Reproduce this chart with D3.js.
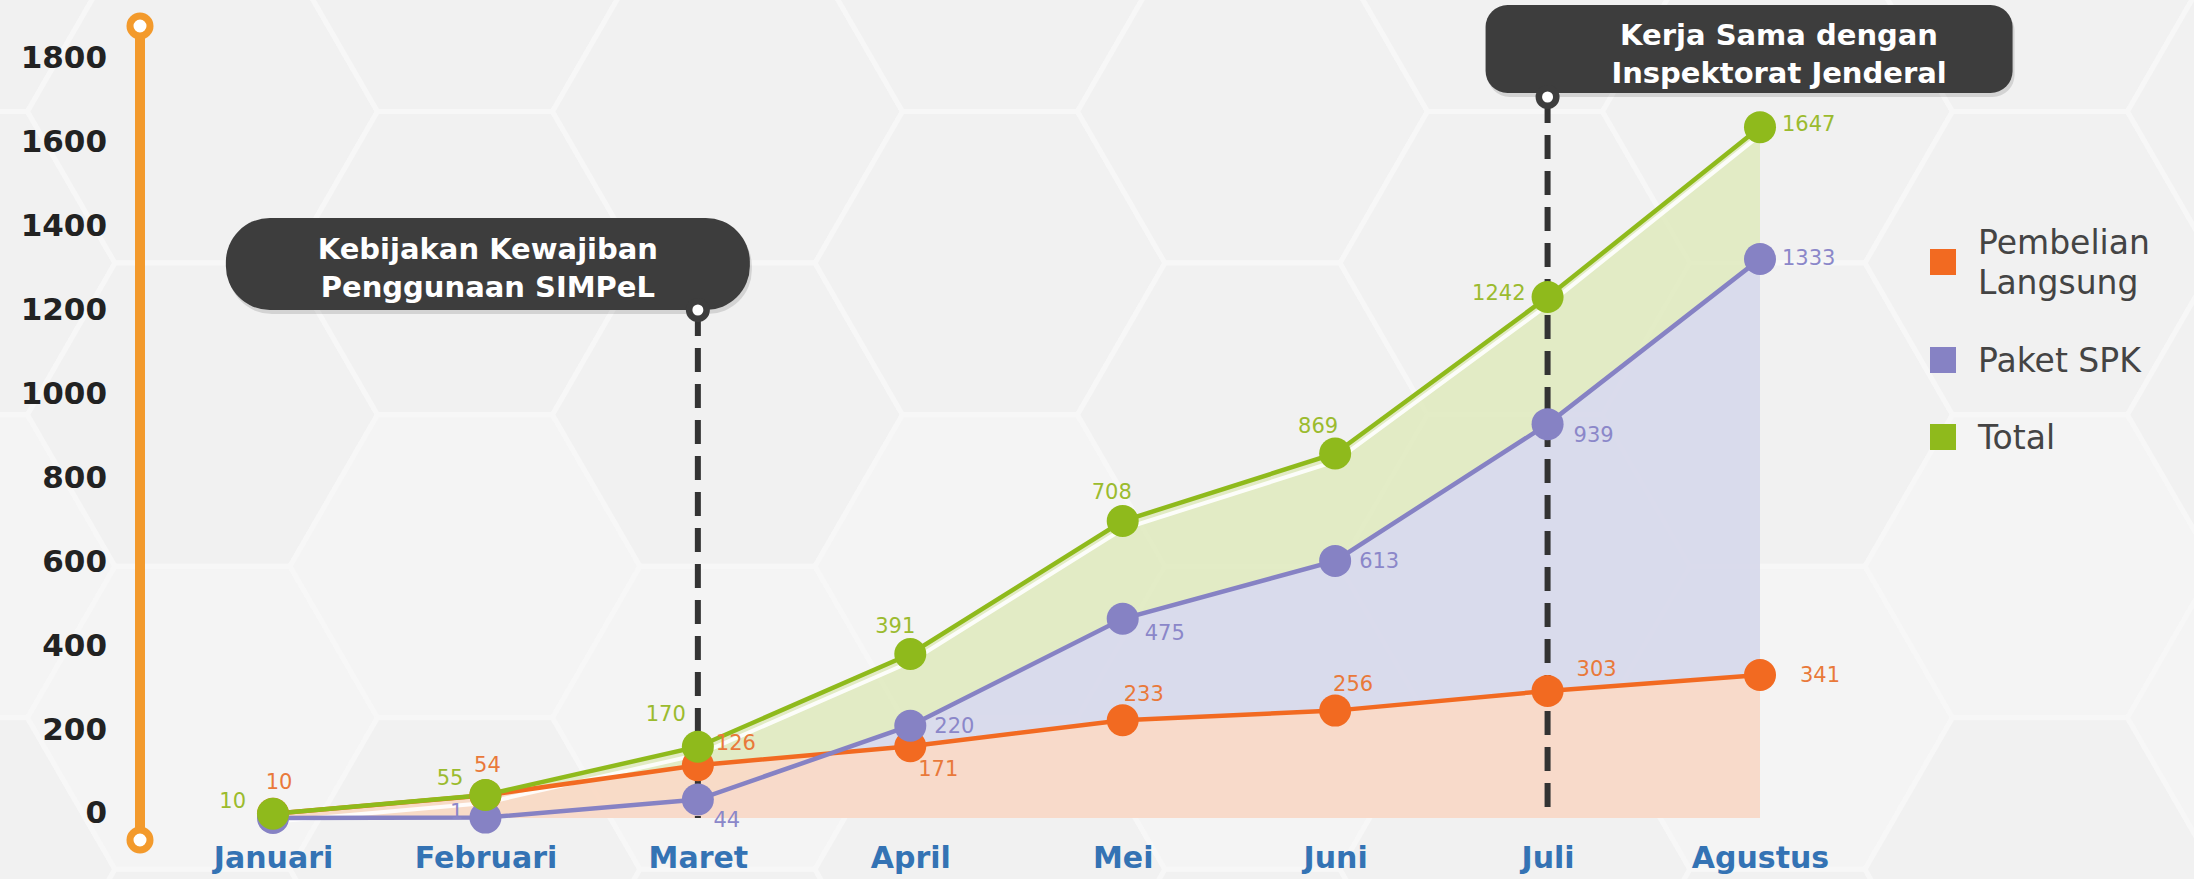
<!DOCTYPE html>
<html>
<head>
<meta charset="utf-8">
<script src="https://cdn.jsdelivr.net/npm/d3@7"></script>
<style>
  body { margin: 0; background: #f3f3f3; }
  svg { display: block; }
</style>
</head>
<body>
<script>
  const months = ['Januari', 'Februari', 'Maret', 'April', 'Mei', 'Juni', 'Juli', 'Agustus'];
  const pembelian = [10, 54, 126, 171, 233, 256, 303, 341];
  const paketSPK = [0, 1, 44, 220, 475, 613, 939, 1333];
  const total = [10, 55, 170, 391, 708, 869, 1242, 1647];
  const yTicks = [0, 200, 400, 600, 800, 1000, 1200, 1400, 1600, 1800];
  const legendNames = [['Pembelian', 'Langsung'], ['Paket SPK'], ['Total']];
  const eventMonths = ['Maret', 'Juli'];
  const eventTexts = [
    ['Kebijakan Kewajiban', 'Penggunaan SIMPeL'],
    ['Kerja Sama dengan', 'Inspektorat Jenderal']
  ];

  // where each value label sits relative to its dot: [dx, dy, anchor], null = no label
  const pembelianLabelPos = [[6, -32, 'middle'], [2, -31, 'middle'], [18, -23, 'start'], [28, 22, 'middle'],
    [21, -27, 'middle'], [18, -27, 'middle'], [49, -22, 'middle'], [60, 0, 'middle']];
  const paketLabelPos = [null, [-22, -6, 'end'], [29, 20, 'middle'], [24, 0, 'start'],
    [42, 14, 'middle'], [24, 0, 'start'], [46, 11, 'middle'], [22, -1, 'start']];
  const totalLabelPos = [[-27, -13, 'end'], [-22, -17, 'end'], [-12, -33, 'end'], [-15, -28, 'middle'],
    [-11, -29, 'middle'], [-17, -28, 'middle'], [-22, -4, 'end'], [22, -4, 'start']];

  const width = 2194;
  const height = 879;

  const series = [
    {name: 'pembelian', values: pembelian, labels: pembelianLabelPos, line: '#f26a21', text: '#e9793a', area: '#fbd9c6'},
    {name: 'paket', values: paketSPK, labels: paketLabelPos, line: '#8682c4', text: '#8b87c9', area: '#d8d9ef'},
    {name: 'total', values: total, labels: totalLabelPos, line: '#8fba1c', text: '#9bbb2e', area: '#e0eac0'}
  ];

  const x = d3.scalePoint()
    .domain(months)
    .range([273, 1760]);

  const y = d3.scaleLinear()
    .domain([0, 1800])
    .range([818, 63]);

  const svg = d3.select('body')
    .append('svg')
    .attr('width', width)
    .attr('height', height);

  // faint hexagon background
  const bg = svg.append('g');
  bg.append('rect')
    .attr('width', width)
    .attr('height', height)
    .attr('fill', '#f2f2f2');

  const hexR = 175;
  const hex = d3.range(6).map(i => [hexR * Math.cos(Math.PI / 3 * i), hexR * Math.sin(Math.PI / 3 * i)]);
  const hexCenters = [];
  for (let c = 0; c < 10; c++) {
    for (let r = -1; r < 5; r++) {
      hexCenters.push([c * hexR * 1.5 - 60, r * hexR * Math.sqrt(3) + (c % 2) * hexR * Math.sqrt(3) / 2 - 40]);
    }
  }
  bg.selectAll('path.hex')
    .data(hexCenters)
    .enter()
    .append('path')
    .attr('class', 'hex')
    .attr('transform', d => `translate(${d[0]}, ${d[1]})`)
    .attr('d', d3.line()(hex) + 'Z')
    .attr('fill', (d, i) => i % 3 === 0 ? '#f4f4f4' : '#f1f1f1')
    .attr('stroke', '#f7f7f7')
    .attr('stroke-width', 5);

  // areas, back to front
  const area = d3.area()
    .x((d, i) => x(months[i]))
    .y0(y(0))
    .y1(d => y(d));

  svg.selectAll('path.area')
    .data(series.slice().reverse())
    .enter()
    .append('path')
    .attr('class', 'area')
    .attr('d', d => area(d.values))
    .attr('fill', d => d.area)
    .attr('fill-opacity', 0.9);

  // event markers
  const ev = svg.selectAll('g.event')
    .data(eventMonths)
    .enter()
    .append('g')
    .attr('class', 'event');

  ev.append('line')
    .attr('x1', d => x(d))
    .attr('x2', d => x(d))
    .attr('y1', (d, i) => i === 0 ? 312 : 99)
    .attr('y2', y(0))
    .attr('stroke', '#333')
    .attr('stroke-width', 6)
    .attr('stroke-dasharray', '24,12');

  // boxes: first hangs left of its month, second right of it
  const boxW = [524, 527];
  const boxH = [92, 88];
  const boxTop = [218, 5];
  const boxLeft = (d, i) => i === 0 ? x(d) + 52 - boxW[0] : x(d) - 62;

  ev.append('rect')
    .attr('x', (d, i) => boxLeft(d, i) + 2)
    .attr('y', (d, i) => boxTop[i] + 4)
    .attr('width', (d, i) => boxW[i])
    .attr('height', (d, i) => boxH[i])
    .attr('rx', (d, i) => i === 0 ? 44 : 22)
    .attr('fill', '#000')
    .attr('opacity', 0.12);

  ev.append('rect')
    .attr('x', boxLeft)
    .attr('y', (d, i) => boxTop[i])
    .attr('width', (d, i) => boxW[i])
    .attr('height', (d, i) => boxH[i])
    .attr('rx', (d, i) => i === 0 ? 44 : 22)
    .attr('fill', '#3d3d3d');

  ev.append('circle')
    .attr('cx', d => x(d))
    .attr('cy', (d, i) => i === 0 ? boxTop[0] + boxH[0] : boxTop[1] + boxH[1] + 4)
    .attr('r', 12)
    .attr('fill', '#3d3d3d');

  ev.append('circle')
    .attr('cx', d => x(d))
    .attr('cy', (d, i) => i === 0 ? boxTop[0] + boxH[0] : boxTop[1] + boxH[1] + 4)
    .attr('r', 5.5)
    .attr('fill', '#fff');

  ev.each(function(d, i) {
    const cx = boxLeft(d, i) + boxW[i] / 2 + (i === 0 ? 0 : 30);
    d3.select(this)
      .selectAll('text')
      .data(eventTexts[i])
      .enter()
      .append('text')
      .attr('x', cx)
      .attr('y', (t, j) => boxTop[i] + (i === 0 ? 31 : 30) + j * 38)
      .attr('dy', '0.35em')
      .attr('text-anchor', 'middle')
      .attr('fill', '#fff')
      .style('font-family', '"DejaVu Sans", sans-serif')
      .style('font-weight', 'bold')
      .style('font-size', '29px')
      .text(t => t);
  });

  // white highlight under the total line
  const line = d3.line()
    .x((d, i) => x(months[i]))
    .y(d => y(d));

  svg.append('path')
    .attr('d', line(total))
    .attr('transform', 'translate(0, 8)')
    .attr('fill', 'none')
    .attr('stroke', '#fff')
    .attr('stroke-width', 4)
    .attr('opacity', 0.9);

  series.forEach(s => {
    svg.append('path')
      .attr('d', line(s.values))
      .attr('fill', 'none')
      .attr('stroke', s.line)
      .attr('stroke-width', 4.5);
  });

  series.forEach(s => {
    svg.append('g')
      .selectAll('circle')
      .data(s.values)
      .enter()
      .append('circle')
      .attr('cx', (d, i) => x(months[i]))
      .attr('cy', d => y(d))
      .attr('r', 16)
      .attr('fill', s.line);
  });

  series.forEach(s => {
    svg.append('g')
      .selectAll('text')
      .data(s.values.map((v, i) => ({v, i, pos: s.labels[i]})).filter(d => d.pos))
      .enter()
      .append('text')
      .attr('x', d => x(months[d.i]) + d.pos[0])
      .attr('y', d => y(d.v) + d.pos[1])
      .attr('dy', '0.35em')
      .attr('text-anchor', d => d.pos[2])
      .attr('fill', s.text)
      .style('font-family', '"DejaVu Sans", sans-serif')
      .style('font-size', '21px')
      .text(d => d.v);
  });

  // y axis: orange bar with rings, bold labels
  const axisX = 140;
  svg.append('line')
    .attr('x1', axisX)
    .attr('x2', axisX)
    .attr('y1', 26)
    .attr('y2', 840)
    .attr('stroke', '#f39a2c')
    .attr('stroke-width', 10);

  svg.selectAll('circle.ring')
    .data([26, 840])
    .enter()
    .append('circle')
    .attr('class', 'ring')
    .attr('cx', axisX)
    .attr('cy', d => d)
    .attr('r', 10)
    .attr('fill', '#fff')
    .attr('stroke', '#f39a2c')
    .attr('stroke-width', 7);

  const yAxis = svg.append('g')
    .attr('transform', 'translate(107, -5)')
    .call(d3.axisLeft(y).tickValues(yTicks).tickFormat(d3.format('d')).tickSize(0).tickPadding(0));
  yAxis.select('.domain').remove();
  yAxis.selectAll('text')
    .attr('fill', '#222')
    .style('font-family', '"DejaVu Sans", sans-serif')
    .style('font-weight', 'bold')
    .style('font-size', '31px');

  const xAxis = svg.append('g')
    .attr('transform', 'translate(0, 857)')
    .call(d3.axisBottom(x).tickSize(0));
  xAxis.select('.domain').remove();
  xAxis.selectAll('text')
    .attr('y', 0)
    .attr('dy', '0.36em')
    .attr('fill', '#3473b4')
    .style('font-family', '"DejaVu Sans", sans-serif')
    .style('font-weight', 'bold')
    .style('font-size', '30px');

  // legend
  const legendY = [262, 360, 437];
  const legend = svg.selectAll('g.legend')
    .data(series)
    .enter()
    .append('g')
    .attr('class', 'legend')
    .attr('transform', (d, i) => `translate(1930, ${legendY[i]})`);

  legend.append('rect')
    .attr('x', 0)
    .attr('y', -13)
    .attr('width', 26)
    .attr('height', 26)
    .attr('fill', d => d.line);

  legend.each(function(d, i) {
    const lines = legendNames[i];
    d3.select(this)
      .selectAll('text')
      .data(lines)
      .enter()
      .append('text')
      .attr('x', 48)
      .attr('y', (t, j) => (j - (lines.length - 1) / 2) * 40)
      .attr('dy', '0.35em')
      .attr('fill', '#444')
      .style('font-family', '"DejaVu Sans", sans-serif')
      .style('font-size', '33px')
      .text(t => t);
  });
</script>
</body>
</html>
